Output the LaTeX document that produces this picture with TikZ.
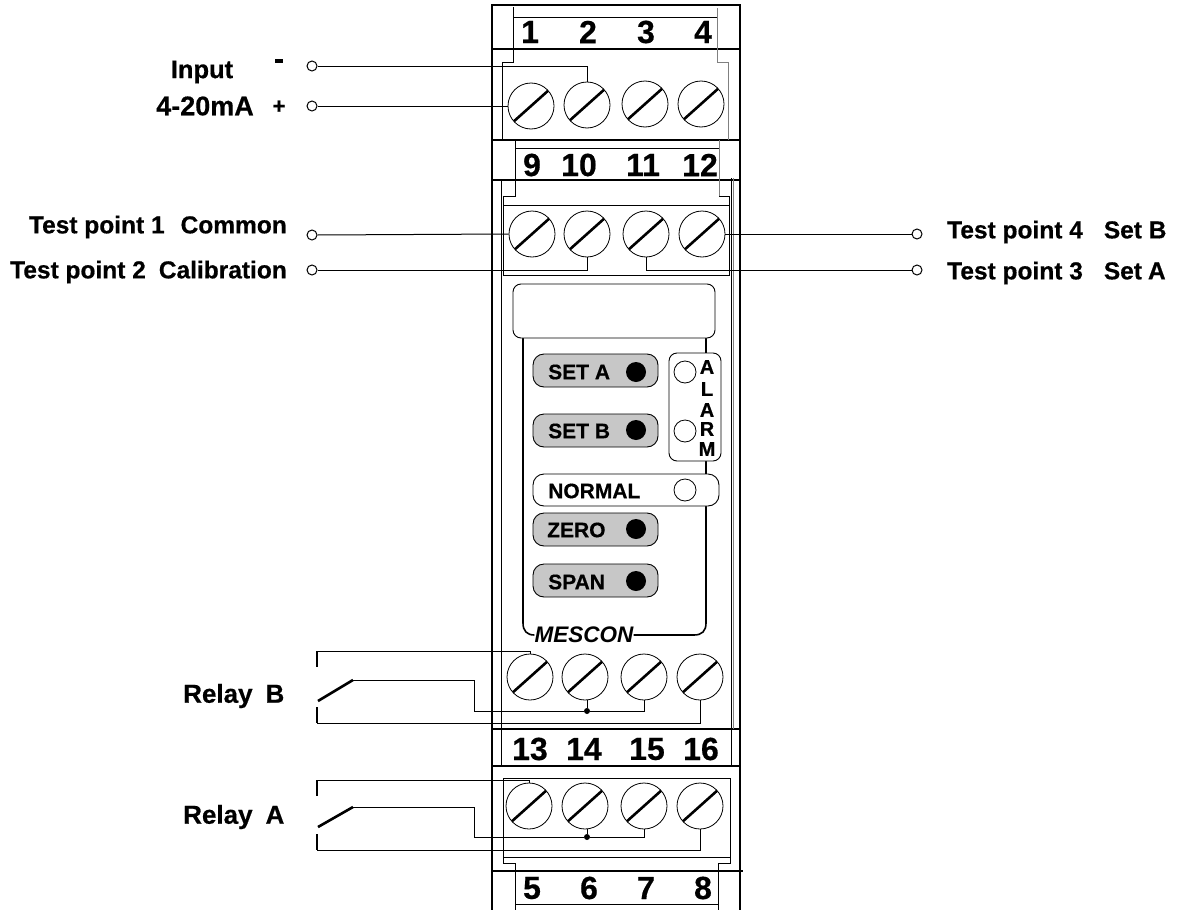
\documentclass[tikz,border=0pt]{standalone}
\usepackage{fontspec}
\setmainfont[BoldFeatures={FakeBold=0.5}]{Liberation Sans}
\tikzset{
  screw/.style={circle,draw,inner sep=0pt,minimum size=46pt,line width=0.8pt,
    path picture={\draw[line width=2.6pt] ([shift={(-19,17)}]path picture bounding box.center) -- ([shift={(19,-17)}]path picture bounding box.center);}},
  term/.style={circle,draw,fill=white,inner sep=0pt,minimum size=10pt,line width=1pt},
  junction/.style={circle,fill=black,inner sep=0pt,minimum size=6pt},
  num/.style={inner sep=0pt,font=\fontsize{32}{32}\selectfont\bfseries},
  lbl/.style={inner sep=0pt,font=\fontsize{24.5}{25}\selectfont\bfseries},
  btntext/.style={inner sep=0pt,anchor=west,font=\fontsize{21}{21}\selectfont\bfseries},
  alarmtext/.style={inner sep=0pt,font=\fontsize{20}{20}\selectfont\bfseries},
  btn/.style={draw,rounded corners=11pt,inner sep=0pt,line width=0.9pt,minimum width=125pt,minimum height=33pt,fill=btngray},
  led/.style={circle,fill=black,inner sep=0pt,minimum size=20pt},
  lamp/.style={circle,draw,fill=white,inner sep=0pt,minimum size=22pt,line width=0.8pt},
  wire/.style={line width=1pt},
  bar/.style={line width=2.6pt},
}
\definecolor{btngray}{gray}{0.78}
\begin{document}
\begin{tikzpicture}[x=1pt,y=-1pt]
\useasboundingbox (0,0) rectangle (1178,910);

% housing
\draw[line width=1.4pt] (492,910) -- (492,5) -- (740,5) -- (740,910);
\draw[line width=1.6pt] (492,49) -- (741,49);
\draw[line width=1.6pt] (492,140) -- (741,140);
\draw[line width=1.4pt] (492,180) -- (741,180);
\draw[line width=1.4pt] (492,729) -- (741,729);
\draw[line width=1.4pt] (492,766) -- (741,766);
\draw[line width=1.4pt] (492,871) -- (743,871);
\draw[wire] (501.5,180) -- (501.5,766);
\draw[wire] (731,178) -- (731,766);
\draw[wire,gray] (733.5,178) -- (733.5,729);

% terminal blocks
\draw[wire] (513.5,7) -- (513.5,62) -- (502,62) -- (502,140);
\draw[wire] (513.5,17) -- (717,17);
\draw[wire,gray] (717,8) -- (717,62) -- (728,62) -- (728,140);
\draw[wire] (515,140) -- (515,196) -- (503,196) -- (503,275) -- (729,275) -- (729,196) -- (719,196);
\draw[wire,gray] (719,196) -- (719,140);
\draw[wire] (515,148) -- (719,148);
\draw[wire] (503,205) -- (729,205);
\draw[wire] (503,778) rectangle (730,857);
\draw[wire] (503,857) -- (503,863) -- (515,863) -- (515,910);
\draw[wire] (730,857) -- (730,863) -- (718,863) -- (718,910);
\draw[wire] (515,904) -- (718,904);

% numbers
\node[num] (n1) at (530,32) {1};
\node[num] (n2) at (588,32) {2};
\node[num] (n3) at (646,32) {3};
\node[num] (n4) at (703,32) {4};
\node[num] (n9) at (532,165) {9};
\node[num] (n10) at (579,165) {10};
\node[num] (n11) at (643,165) {11};
\node[num] (n12) at (700,165) {12};
\node[num] (n13) at (530,749) {13};
\node[num] (n14) at (584,749) {14};
\node[num] (n15) at (647,749) {15};
\node[num] (n16) at (701,749) {16};
\node[num] (n5) at (532,888) {5};
\node[num] (n6) at (589,888) {6};
\node[num] (n7) at (646,888) {7};
\node[num] (n8) at (703,888) {8};

% screws
\node[screw] (sa1) at (531,106) {};
\node[screw] (sa2) at (587,105) {};
\node[screw] (sa3) at (645,104) {};
\node[screw] (sa4) at (701,104) {};
\node[screw] (sb1) at (532,234) {};
\node[screw] (sb2) at (587,234) {};
\node[screw] (sb3) at (646,234) {};
\node[screw] (sb4) at (702,234) {};
\node[screw] (sc1) at (530,677) {};
\node[screw] (sc2) at (585,677) {};
\node[screw] (sc3) at (644,677) {};
\node[screw] (sc4) at (700,677) {};
\node[screw] (sd1) at (529,806) {};
\node[screw] (sd2) at (585,806) {};
\node[screw] (sd3) at (644,806) {};
\node[screw] (sd4) at (700,806) {};

% front panel
\node[inner sep=0pt,font=\fontsize{22.5}{23}\selectfont\bfseries\itshape] (mescon) at (584,635) {MESCON};
\draw[line width=1.6pt] (523,338) -- (523,623) .. controls (523,631) and (527,635) .. (mescon.west);
\draw[line width=1.6pt] (706,338) -- (706,623) .. controls (706,631) and (702,635) .. (694,635) -- (mescon.east);
\node[draw,fill=white,rounded corners=8pt,line width=0.9pt,inner sep=0pt,minimum width=202pt,minimum height=54pt] (display) at (614,311) {};
\node[draw,fill=white,rounded corners=8pt,line width=0.9pt,inner sep=0pt,minimum width=52pt,minimum height=108pt] (alarmbox) at (695,407) {};
\node[lamp] (lampa) at (685,372) {};
\node[lamp] (lampb) at (685,431) {};
\node[alarmtext] (ala) at (707,367) {A};
\node[alarmtext] (alb) at (707,389) {L};
\node[alarmtext] (alc) at (707,410) {A};
\node[alarmtext] (ald) at (707,429) {R};
\node[alarmtext] (ale) at (707,449) {M};
\node[btn] (seta) at (595.5,370.5) {};
\node[btn] (setb) at (595.5,430.5) {};
\node[btn,fill=white,minimum width=186pt,minimum height=32pt] (normal) at (626,490) {};
\node[btn] (zero) at (595.5,529.5) {};
\node[btn] (span) at (595.5,580.5) {};
\node[btntext] (setatext) at (548,372) {SET A};
\node[btntext] (setbtext) at (548,431) {SET B};
\node[btntext] (normaltext) at (548,491) {NORMAL};
\node[btntext] (zerotext) at (547,530) {ZERO};
\node[btntext] (spantext) at (548,582) {SPAN};
\node[led] (ledseta) at (636,372) {};
\node[led] (ledsetb) at (636,430) {};
\node[led] (ledzero) at (636,529) {};
\node[led] (ledspan) at (636,581) {};
\node[lamp] (lampn) at (685,490) {};

% input and test points
\node[term] (inminus) at (312,66) {};
\node[term] (inplus) at (312,106) {};
\node[term] (tp1) at (312,235) {};
\node[term] (tp2) at (312,270) {};
\node[term] (tp4) at (917,234) {};
\node[term] (tp3) at (917,270) {};
\draw[wire] (inminus.east) -| (sa2.north);
\draw[wire] (inplus.east) -- (sa1.west);
\draw[wire] (tp1.east) -- (sb1.west);
\draw[wire] (tp2.east) -| (sb2.south);
\draw[wire] (tp4.west) -- (sb4.east);
\draw[wire] (tp3.west) -| (sb3.south);

\node[lbl,font=\fontsize{25.5}{26}\selectfont\bfseries] (input) at (202,72) {Input};
\node[lbl,anchor=east,font=\fontsize{27}{27}\selectfont\bfseries] (range) at (254,106) {4-20mA};
\node[lbl,font=\fontsize{30}{30}\selectfont\bfseries] (minus) at (279,64) {-};
\node[lbl,font=\fontsize{22}{22}\selectfont\bfseries] (plus) at (279,107) {+};
\node[lbl,anchor=east] (tp1text) at (287,227) {Test point 1\hspace{16pt}Common};
\node[lbl,anchor=east] (tp2text) at (287,272) {Test point 2\hspace{13pt}Calibration};
\node[lbl,anchor=west] (tp4text) at (947,232) {Test point 4\hspace{21pt}Set B};
\node[lbl,anchor=west] (tp3text) at (947,273) {Test point 3\hspace{21pt}Set\hspace{6pt}A};
\node[lbl,anchor=west,font=\fontsize{26}{26}\selectfont\bfseries] (relaybtext) at (183,696) {Relay\hspace{13pt}B};
\node[lbl,anchor=west,font=\fontsize{26}{26}\selectfont\bfseries] (relayatext) at (183,817) {Relay\hspace{13pt}A};

% relay B
\coordinate (bna) at (317,651);
\coordinate (bnb) at (317,667);
\coordinate (bca) at (318,701);
\coordinate (bcb) at (353,680);
\coordinate (bcc) at (474,711);
\coordinate (bja) at (317,707);
\coordinate (bjb) at (317,723);
\node[junction] (bdot) at (587,711) {};
\draw[bar] (bna) -- (bnb);
\draw[bar] (bca) -- (bcb);
\draw[bar] (bja) -- (bjb);
\draw[wire] (bna) -| (sc1.north);
\draw[wire] (bcb) -| (bcc) -- (bdot) -| (sc3.south);
\draw[wire] (bdot) -- (bdot |- sc2.south);
\draw[wire] (bjb) -| (sc4.south);

% relay A
\coordinate (ana) at (317,780);
\coordinate (anb) at (317,796);
\coordinate (aca) at (318,827);
\coordinate (acb) at (353,807);
\coordinate (acc) at (474,837);
\coordinate (aja) at (317,834);
\coordinate (ajb) at (317,850);
\node[junction] (adot) at (587,837) {};
\draw[bar] (ana) -- (anb);
\draw[bar] (aca) -- (acb);
\draw[bar] (aja) -- (ajb);
\draw[wire] (ana) -| (sd1.north);
\draw[wire] (acb) -| (acc) -- (adot) -| (sd3.south);
\draw[wire] (adot) -- (adot |- sd2.south);
\draw[wire] (ajb) -| (sd4.south);
\end{tikzpicture}
\end{document}
